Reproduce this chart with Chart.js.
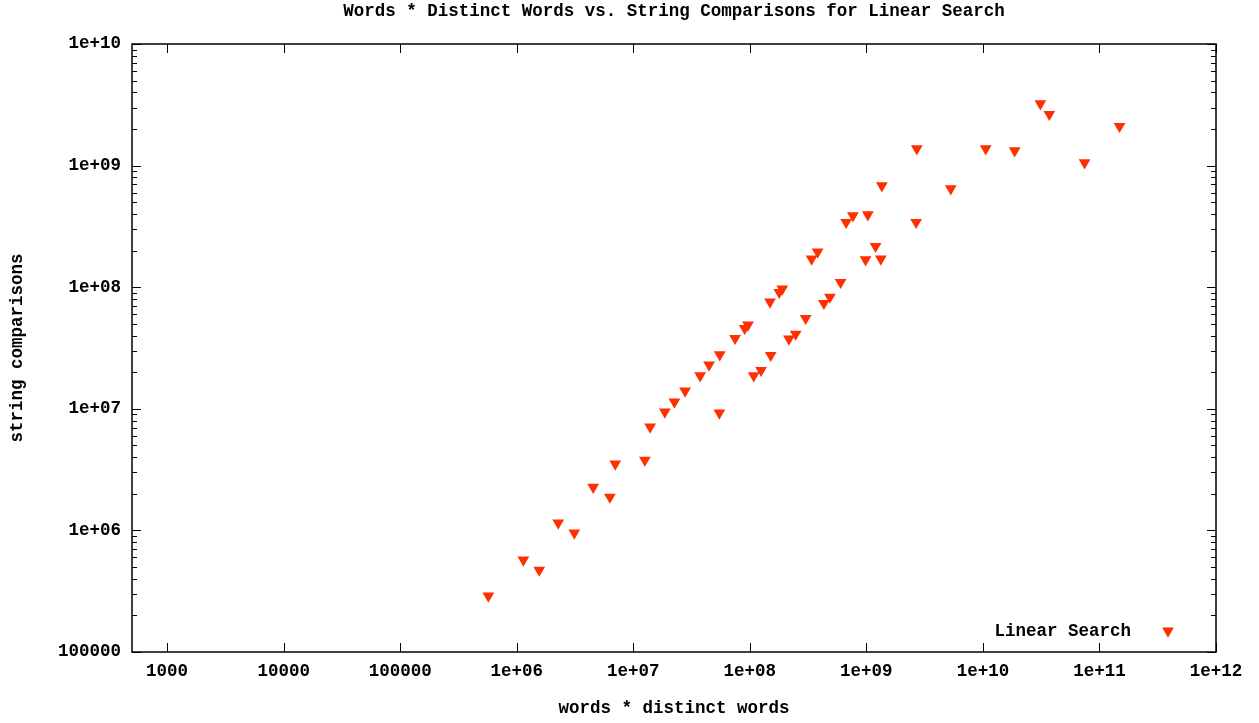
<!DOCTYPE html>
<html>
<head>
<meta charset="utf-8">
<script src="https://cdn.jsdelivr.net/npm/chart.js@4.4.1/dist/chart.umd.min.js"></script>
<style>
  html, body { margin: 0; padding: 0; background: #fff; }
  canvas { display: block; }
</style>
</head>
<body>
<canvas id="myChart" width="1259" height="723"></canvas>
<script>
// words * distinct words (x) and string comparisons (y), one entry per run
const wordsTimesDistinct = [
  5.71e5, 1.14e6, 1.56e6, 2.27e6, 3.12e6, 4.53e6, 6.30e6, 7.00e6, 1.257e7, 1.395e7,
  1.866e7, 2.254e7, 2.784e7, 5.48e7, 3.745e7, 4.47e7, 5.52e7, 7.47e7, 9.04e7, 9.65e7,
  1.080e8, 1.248e8, 1.511e8, 1.490e8, 1.789e8, 1.899e8, 2.167e8, 2.474e8, 3.013e8, 3.39e8,
  3.817e8, 4.322e8, 4.867e8, 6.009e8, 6.71e8, 7.66e8, 1.030e9, 9.84e8, 1.199e9, 1.331e9,
  1.358e9, 2.672e9, 2.709e9, 5.30e9, 1.057e10, 1.873e10, 3.11e10, 3.713e10, 7.45e10, 1.487e11
];
const stringComparisons = [
  2.89e5, 5.71e5, 4.72e5, 1.15e6, 9.52e5, 2.27e6, 1.88e6, 3.52e6, 3.79e6, 7.09e6,
  9.41e6, 1.137e7, 1.401e7, 9.24e6, 1.872e7, 2.292e7, 2.785e7, 3.80e7, 4.59e7, 4.89e7,
  1.872e7, 2.073e7, 2.754e7, 7.56e7, 9.08e7, 9.67e7, 3.75e7, 4.12e7, 5.55e7, 1.706e8,
  1.948e8, 7.37e7, 8.30e7, 1.097e8, 3.418e8, 3.873e8, 3.947e8, 1.684e8, 2.169e8, 1.706e8,
  6.834e8, 3.418e8, 1.377e9, 6.46e8, 1.377e9, 1.326e9, 3.228e9, 2.642e9, 1.056e9, 2.105e9
];
const seriesLabel = 'Linear Search';

const xTickValues = [1e3, 1e4, 1e5, 1e6, 1e7, 1e8, 1e9, 1e10, 1e11, 1e12];
const yTickValues = [1e5, 1e6, 1e7, 1e8, 1e9, 1e10];

const chartTitle = 'Words * Distinct Words vs. String Comparisons for Linear Search';
const xTitle = 'words * distinct words';
const yTitle = 'string comparisons';

const FONT = { family: '"Liberation Mono", "DejaVu Sans Mono", monospace', size: 17.5, weight: 'bold' };
const RED = '#ff3000';

// gnuplot style labels: 100000, 1e+06 ...
function fmt(v) {
  const e = Math.round(Math.log10(v));
  if (e < 6) return String(Math.round(v));
  return '1e+' + String(e).padStart(2, '0');
}

const points = wordsTimesDistinct.map((x, i) => ({ x: x, y: stringComparisons[i] }));

// frame, inward ticks, title and key like gnuplot
const gnuplotLook = {
  id: 'gnuplotLook',
  afterDraw(chart) {
    const ctx = chart.ctx;
    const ca = chart.chartArea;
    const xs = chart.scales.x;
    const ys = chart.scales.y;
    ctx.save();
    ctx.strokeStyle = '#000';
    ctx.lineWidth = 1.5;
    ctx.strokeRect(ca.left, ca.top, ca.right - ca.left, ca.bottom - ca.top);

    ctx.lineWidth = 1;
    ctx.beginPath();
    xTickValues.forEach(v => {
      const px = Math.round(xs.getPixelForValue(v)) + 0.5;
      ctx.moveTo(px, ca.bottom); ctx.lineTo(px, ca.bottom - 9);
      ctx.moveTo(px, ca.top); ctx.lineTo(px, ca.top + 9);
    });
    yTickValues.forEach(v => {
      const py = Math.round(ys.getPixelForValue(v)) + 0.5;
      ctx.moveTo(ca.left, py); ctx.lineTo(ca.left + 9, py);
      ctx.moveTo(ca.right, py); ctx.lineTo(ca.right - 9, py);
      if (v < 1e10) {
        for (let m = 2; m <= 9; m++) {
          const pm = Math.round(ys.getPixelForValue(v * m)) + 0.5;
          ctx.moveTo(ca.left, pm); ctx.lineTo(ca.left + 5, pm);
          ctx.moveTo(ca.right, pm); ctx.lineTo(ca.right - 5, pm);
        }
      }
    });
    ctx.stroke();

    ctx.fillStyle = '#000';
    ctx.font = `${FONT.weight} ${FONT.size}px ${FONT.family}`;
    ctx.textBaseline = 'middle';
    ctx.textAlign = 'center';
    ctx.fillText(chartTitle, (ca.left + ca.right) / 2, 12);

    // key
    ctx.textAlign = 'right';
    ctx.fillText(seriesLabel, 1131, 632);
    ctx.fillStyle = RED;
    Chart.helpers.drawPoint(ctx, {
      pointStyle: 'triangle', rotation: 180, radius: 6.8, borderWidth: 0
    }, 1168, 631);
    ctx.restore();
  }
};

const ctx = document.getElementById('myChart').getContext('2d');

const config = {
  type: 'scatter',
  data: {
    datasets: [{
      label: seriesLabel,
      data: points,
      pointStyle: 'triangle',
      rotation: 180,
      radius: 6.8,
      hoverRadius: 6.8,
      backgroundColor: RED,
      borderWidth: 0
    }]
  },
  options: {
    responsive: false,
    animation: false,
    layout: { padding: { top: 44, right: 43, left: 0, bottom: 0 } },
    plugins: {
      legend: { display: false },
      title: { display: false },
      tooltip: { enabled: false }
    },
    scales: {
      x: {
        type: 'logarithmic',
        min: 500,
        max: 1e12,
        grid: { display: false, drawTicks: false },
        border: { display: false },
        afterBuildTicks: axis => { axis.ticks = xTickValues.map(v => ({ value: v })); },
        afterFit: axis => { axis.height = 71; },
        ticks: {
          color: '#000',
          font: FONT,
          padding: 9.5,
          maxRotation: 0,
          autoSkip: false,
          callback: v => fmt(v)
        },
        title: { display: true, text: xTitle, color: '#000', font: FONT, padding: { top: 0, bottom: 3.5 } }
      },
      y: {
        type: 'logarithmic',
        min: 1e5,
        max: 1e10,
        grid: { display: false, drawTicks: false },
        border: { display: false },
        afterBuildTicks: axis => { axis.ticks = yTickValues.map(v => ({ value: v })); },
        afterFit: axis => { axis.width = 132; },
        ticks: {
          color: '#000',
          font: FONT,
          padding: 11,
          autoSkip: false,
          callback: v => fmt(v)
        },
        title: { display: true, text: yTitle, color: '#000', font: FONT, padding: { top: 7, bottom: 0 } }
      }
    }
  },
  plugins: [gnuplotLook]
};

const myChart = new Chart(ctx, config);
</script>
</body>
</html>
